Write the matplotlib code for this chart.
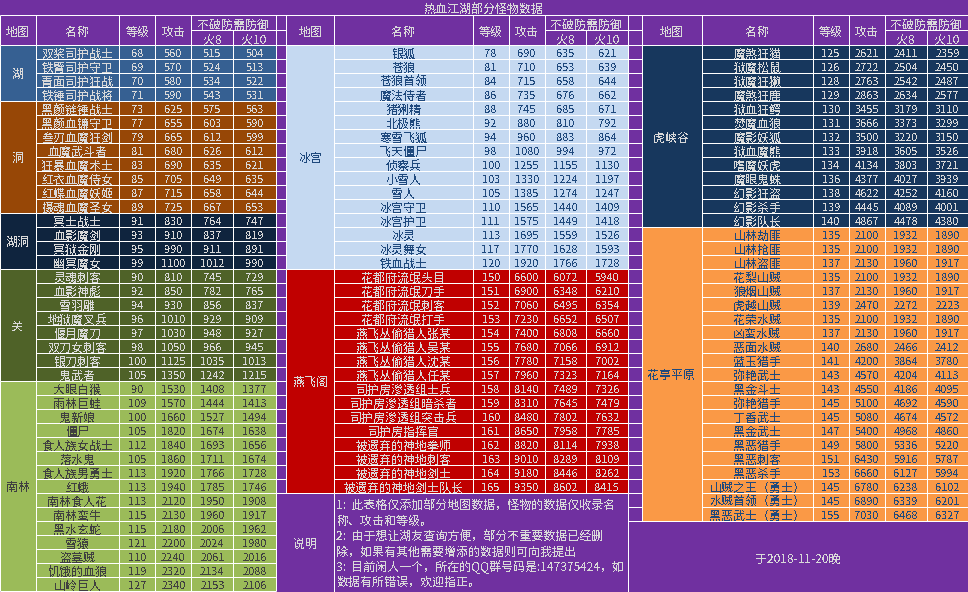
import matplotlib
matplotlib.use('Agg')
import matplotlib.pyplot as plt
from matplotlib.patches import Rectangle

plt.rcParams['font.family'] = ['Noto Sans CJK SC', 'DejaVu Sans']

# 左表数据
left_regions = ['湖', '洞', '湖洞', '关', '南林']
left_counts = [4, 8, 4, 8, 15]
left_names = ['双桨司护战士', '铁臂司护守卫', '青面司护狂战', '铁锤司护战将',
              '黑颜链锤战士', '黑颜血镰守卫', '叁刃血魔狂剑', '血魔武斗者', '狂暴血魔术士', '红衣血魔侍女', '红蝶血魔妖姬', '摄魂血魔圣女',
              '冥士战士', '血影魔剑', '冥狱金刚', '幽冥魔女',
              '灵魂刺客', '血影神彪', '雪羽雕', '地狱魔叉兵', '偃月魔刀', '双刀女刺客', '银刀刺客', '鬼武者',
              '大眼白猴', '雨林巨蛙', '鬼新娘', '僵尸', '食人族女战士', '落水鬼', '食人族男勇士', '红蛾',
              '南林食人花', '南林蛮牛', '黑水玄蛇', '雪猿', '盗墓贼', '饥饿的血狼', '山岭巨人']
left_level = [68, 69, 70, 71, 73, 77, 79, 81, 83, 85, 87, 89, 91, 93, 95, 99, 90, 92, 94, 96, 97, 98, 100, 105,
              90, 109, 100, 105, 112, 105, 113, 113, 113, 115, 115, 121, 110, 119, 127]
left_attack = [560, 570, 580, 590, 625, 655, 665, 680, 690, 705, 715, 725, 830, 910, 990, 1100,
               810, 850, 930, 1010, 1030, 1050, 1125, 1350,
               1530, 1570, 1660, 1820, 1840, 1860, 1920, 1940, 2120, 2130, 2180, 2200, 2240, 2320, 2340]
left_fire8 = [515, 524, 534, 543, 575, 603, 612, 626, 635, 649, 658, 667, 764, 837, 911, 1012,
              745, 782, 856, 929, 948, 966, 1035, 1242,
              1408, 1444, 1527, 1674, 1693, 1711, 1766, 1785, 1950, 1960, 2006, 2024, 2061, 2134, 2153]
left_fire10 = [504, 513, 522, 531, 563, 590, 599, 612, 621, 635, 644, 653, 747, 819, 891, 990,
               729, 765, 837, 909, 927, 945, 1013, 1215,
               1377, 1413, 1494, 1638, 1656, 1674, 1728, 1746, 1908, 1917, 1962, 1980, 2016, 2088, 2106]

# 中表数据
mid_regions = ['冰宫', '燕飞阁']
mid_counts = [16, 16]
mid_names = ['银狐', '苍狼', '苍狼首领', '魔法侍者', '猪猁精', '北极熊', '寒雪飞狐', '飞天僵尸',
             '侦察兵', '小雪人', '雪人', '冰宫守卫', '冰宫护卫', '冰灵', '冰灵舞女', '铁血战士',
             '花都府流氓头目', '花都府流氓刀手', '花都府流氓刺客', '花都府流氓打手',
             '燕飞丛偷猎人张某', '燕飞丛偷猎人吴某', '燕飞丛偷猎人沈某', '燕飞丛偷猎人任某',
             '司护房渗透组士兵', '司护房渗透组暗杀者', '司护房渗透组突击兵', '司护房指挥官',
             '被遗弃的神地拳师', '被遗弃的神地刺客', '被遗弃的神地剑士', '被遗弃的神地剑士队长']
mid_level = [78, 81, 84, 86, 88, 92, 94, 98, 100, 103, 105, 110, 111, 113, 117, 120,
             150, 151, 152, 153, 154, 155, 156, 157, 158, 159, 160, 161, 162, 163, 164, 165]
mid_attack = [690, 710, 715, 735, 745, 880, 960, 1080, 1255, 1330, 1385, 1565, 1575, 1695, 1770, 1920,
              6600, 6900, 7060, 7230, 7400, 7680, 7780, 7960, 8140, 8310, 8480, 8650, 8820, 9010, 9180, 9350]
mid_fire8 = [635, 653, 658, 676, 685, 810, 883, 994, 1155, 1224, 1274, 1440, 1449, 1559, 1628, 1766,
             6072, 6348, 6495, 6652, 6808, 7066, 7158, 7323, 7489, 7645, 7802, 7958, 8114, 8289, 8446, 8602]
mid_fire10 = [621, 639, 644, 662, 671, 792, 864, 972, 1130, 1197, 1247, 1409, 1418, 1526, 1593, 1728,
              5940, 6210, 6354, 6507, 6660, 6912, 7002, 7164, 7326, 7479, 7632, 7785, 7938, 8109, 8262, 8415]

# 右表数据
right_regions = ['虎峡谷', '花亭平原']
right_counts = [13, 21]
right_names = ['魔煞狂猫', '狱魔松鼠', '狱魔狂獭', '魔煞狂鹿', '狱血狂鳄', '焚魔血狼', '魔影妖狐', '狱血魔熊',
               '嗜魔妖虎', '魔眼鬼蛛', '幻影狂盗', '幻影杀手', '幻影队长',
               '山林劫匪', '山林抢匪', '山林盗匪', '花梨山贼', '狼烟山贼', '虎越山贼', '花荣水贼', '凶蛮水贼', '恶面水贼',
               '蓝玉猎手', '弥艳武士', '黑金斗士', '弥艳猎手', '丁香武士', '黑金武士', '黑恶猎手', '黑恶刺客', '黑恶杀手',
               '山贼之王(勇士)', '水贼首领(勇士)', '黑恶武士(勇士)']
right_level = [125, 126, 128, 129, 130, 131, 132, 133, 134, 136, 138, 139, 140,
               135, 135, 137, 135, 137, 139, 135, 137, 140, 141, 143, 143, 145, 145, 147, 149, 151, 153, 145, 145, 155]
right_attack = [2621, 2722, 2763, 2863, 3455, 3666, 3500, 3918, 4134, 4377, 4622, 4445, 4867,
                2100, 2100, 2130, 2100, 2130, 2470, 2100, 2130, 2680, 4200, 4570, 4550, 5100, 5080, 5400, 5800, 6430, 6660,
                6780, 6890, 7030]
right_fire8 = [2411, 2504, 2542, 2634, 3179, 3373, 3220, 3605, 3803, 4027, 4252, 4089, 4478,
               1932, 1932, 1960, 1932, 1960, 2272, 1932, 1960, 2466, 3864, 4204, 4186, 4692, 4674, 4968, 5336, 5916, 6127,
               6238, 6339, 6468]
right_fire10 = [2359, 2450, 2487, 2577, 3110, 3299, 3150, 3526, 3721, 3939, 4160, 4001, 4380,
                1890, 1890, 1917, 1890, 1917, 2223, 1890, 1917, 2412, 3780, 4113, 4095, 4590, 4572, 4860, 5220, 5787, 5994,
                6102, 6201, 6327]

title = '热血江湖部分怪物数据'
notes = ['1:  此表格仅添加部分地图数据,怪物的数据仅收录名',
         '称、攻击和等级。',
         '2:  由于想让湖友查询方便,部分不重要数据已经删',
         '除,如果有其他需要增添的数据则可向我提出',
         '3:  目前闲人一个,所在的QQ群号码是:147375424,如',
         '数据有所错误,欢迎指正。']
date_note = '于2018-11-20晚'

# 颜色
PURPLE = '#7030A0'
WHITE = '#FFFFFF'
LIGHT = '#D9D9D9'
left_fill = ['#366092', '#974706', '#0F243E', '#4F6228', '#9BBB59']
left_text = [LIGHT, LIGHT, LIGHT, LIGHT, '#404040']
mid_fill = ['#C5D9F1', '#C00000']
mid_text = ['#1F497D', LIGHT]
right_fill = ['#17375D', '#FA9946']
right_text = [LIGHT, '#1F497D']

TOP = 45.3
ROW = 14
PX = 72 / 100  # 1 像素对应的磅值

fig = plt.figure(figsize=(9.68, 5.92), dpi=100, facecolor=PURPLE)
ax = fig.add_axes([0, 0, 1, 1])
ax.set_xlim(0, 968)
ax.set_ylim(592, 0)
ax.axis('off')


def put(x, y, s, color=LIGHT, size=12, ha='center'):
    # 全角标点换成 Unicode 全角字符
    s = s.replace(',', '\uff0c').replace('(', '\uff08').replace(')', '\uff09')
    t = ax.text(x, y, s, color=color, fontsize=size * PX, ha=ha, va='center_baseline', zorder=5)
    t.set_antialiased(False)
    return t


def hline(x0, x1, y):
    ax.plot([x0, x1], [y, y], color=WHITE, lw=1 * PX, solid_capstyle='butt', zorder=4)


def vline(x, y0, y1):
    ax.plot([x, x], [y0, y1], color=WHITE, lw=1 * PX, solid_capstyle='butt', zorder=4)


def draw_table(xs, regions, counts, fills, texts, names, level, attack, fire8, fire10):
    # 表头
    put((xs[0] + xs[1]) / 2, 31, '地图')
    put((xs[1] + xs[2]) / 2, 31, '名称')
    put((xs[2] + xs[3]) / 2, 31, '等级')
    put((xs[3] + xs[4]) / 2, 31, '攻击')
    put((xs[4] + xs[6]) / 2, 23.5, '不破防需防御')
    put((xs[4] + xs[5]) / 2, 38.5, '火8')
    put((xs[5] + xs[6]) / 2, 38.5, '火10')
    hline(xs[4], xs[6], 30.3)
    for j, x in enumerate(xs):
        vline(x, 30.3 if j == 5 else 15.3, TOP)
    row = 0
    for region, n, fill, tc in zip(regions, counts, fills, texts):
        y0 = TOP + row * ROW
        ax.add_patch(Rectangle((xs[0], y0), xs[6] - xs[0], n * ROW, facecolor=fill, edgecolor='none', zorder=1))
        put((xs[0] + xs[1]) / 2, y0 + n * ROW / 2, region, tc)
        vline(xs[0], y0, y0 + n * ROW)
        for i in range(n):
            r = row + i
            yc = y0 + i * ROW + 7.6
            put((xs[1] + xs[2]) / 2, yc, names[r], tc)
            put((xs[2] + xs[3]) / 2, yc, str(level[r]), tc, 11)
            put((xs[3] + xs[4]) / 2, yc, str(attack[r]), tc, 11)
            put((xs[4] + xs[5]) / 2, yc, str(fire8[r]), tc, 11)
            put((xs[5] + xs[6]) / 2, yc, str(fire10[r]), tc, 11)
            if i > 0:
                hline(xs[1], xs[6], y0 + i * ROW)
        for x in xs[1:]:
            vline(x, y0, y0 + n * ROW)
        row += n
        hline(xs[0], xs[6], y0 + n * ROW)


left_x = [0, 35.7, 119.3, 155.3, 191.3, 233.3, 275.7]
mid_x = [286.3, 334.3, 472.7, 508.7, 544.7, 586.3, 628.3]
right_x = [641.7, 701.7, 812.7, 848.7, 884.7, 926.7, 968]

draw_table(left_x, left_regions, left_counts, left_fill, left_text,
           left_names, left_level, left_attack, left_fire8, left_fire10)
draw_table(mid_x, mid_regions, mid_counts, mid_fill, mid_text,
           mid_names, mid_level, mid_attack, mid_fire8, mid_fire10)
draw_table(right_x, right_regions, right_counts, right_fill, right_text,
           right_names, right_level, right_attack, right_fire8, right_fire10)

# 标题与表头横线
put(484, 8, title)
hline(0, 968, 15.3)
hline(0, 968, TOP)

# 表间空列的横线
for i in range(1, 32):
    hline(275.7, 286.3, TOP + i * ROW)
for i in range(1, 34):
    hline(628.3, 641.7, TOP + i * ROW)
hline(275.7, 286.3, 30.3)
hline(628.3, 641.7, 30.3)

# 说明
hline(275.7, 628.3, 493.3)
vline(334.3, 493.3, 592)
vline(628.3, 493.3, 592)
put(305, 543, '说明')
note_y = [505, 520, 536, 551, 565.5, 581]
for y, line in zip(note_y, notes):
    put(336.5, y, line, ha='left')

# 右下角日期
hline(628.3, 968, 521.3)
put(798, 557.5, date_note)

fig.savefig('out.png', dpi=100, facecolor=PURPLE)
